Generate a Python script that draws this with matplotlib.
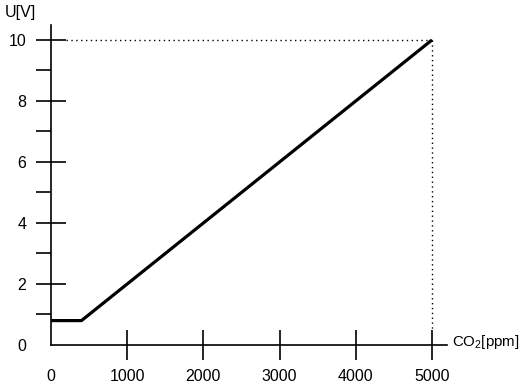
import numpy as np
import matplotlib
matplotlib.use("Agg")
import matplotlib.pyplot as plt
from matplotlib.ticker import FixedLocator

plt.rcParams['font.family'] = ['Liberation Sans', 'DejaVu Sans']

# sensor output curve (CO2 ppm -> voltage)
co2 = [0, 400, 5000]
volt = [0.8, 0.8, 10]

x_ticks = [0, 1000, 2000, 3000, 4000, 5000]
x_labels = ["0", "1000", "2000", "3000", "4000", "5000"]
y_major = [0, 2, 4, 6, 8, 10]
y_minor = [1, 3, 5, 7, 9]

W, H = 523, 389
fig = plt.figure(figsize=(W / 100, H / 100), dpi=100)
ax = fig.add_axes([51 / W, (H - 345) / H, 396 / W, 320 / H])
ax.set_xlim(0, 5197)
ax.set_ylim(0, 10.49)

ax.plot(co2, volt, color="black", lw=2.3, solid_capstyle="butt", clip_on=False)

# dotted guide lines to the end point
ax.plot([200, 5000], [10, 10], color="black", lw=1.0, ls=(0, (1, 2.5)))
ax.plot([5000, 5000], [10, 0.5], color="black", lw=1.0, ls=(0, (1, 2.5)))

for s in ["top", "right"]:
    ax.spines[s].set_visible(False)
for s in ["left", "bottom"]:
    ax.spines[s].set_linewidth(1.2)

ax.xaxis.set_major_locator(FixedLocator(x_ticks))
ax.set_xticklabels(x_labels)
ax.yaxis.set_major_locator(FixedLocator(y_major))
ax.yaxis.set_minor_locator(FixedLocator(y_minor))
ax.set_yticklabels([str(v) for v in y_major])

ax.tick_params(axis="both", which="major", direction="inout", length=21.6,
               width=1.2, labelsize=11.5)
ax.tick_params(axis="y", which="minor", direction="out", length=10.8, width=1.2)
ax.tick_params(axis="x", which="major", pad=6.5)
ax.tick_params(axis="y", which="major", pad=7)

# no tick mark at x = 0, only its label
ax.xaxis.get_major_ticks()[0].tick1line.set_visible(False)
ax.yaxis.get_major_ticks()[0].tick1line.set_visible(False)

fig.text(5 / W, 1 - 13 / H, "U[V]", ha="left", va="center", fontsize=11.5)
fig.text(452 / W, 1 - 342 / H, r"CO$_{\mathregular{2}}$[ppm]", ha="left",
         va="center", fontsize=10.8)

fig.savefig("out.png", dpi=100)
